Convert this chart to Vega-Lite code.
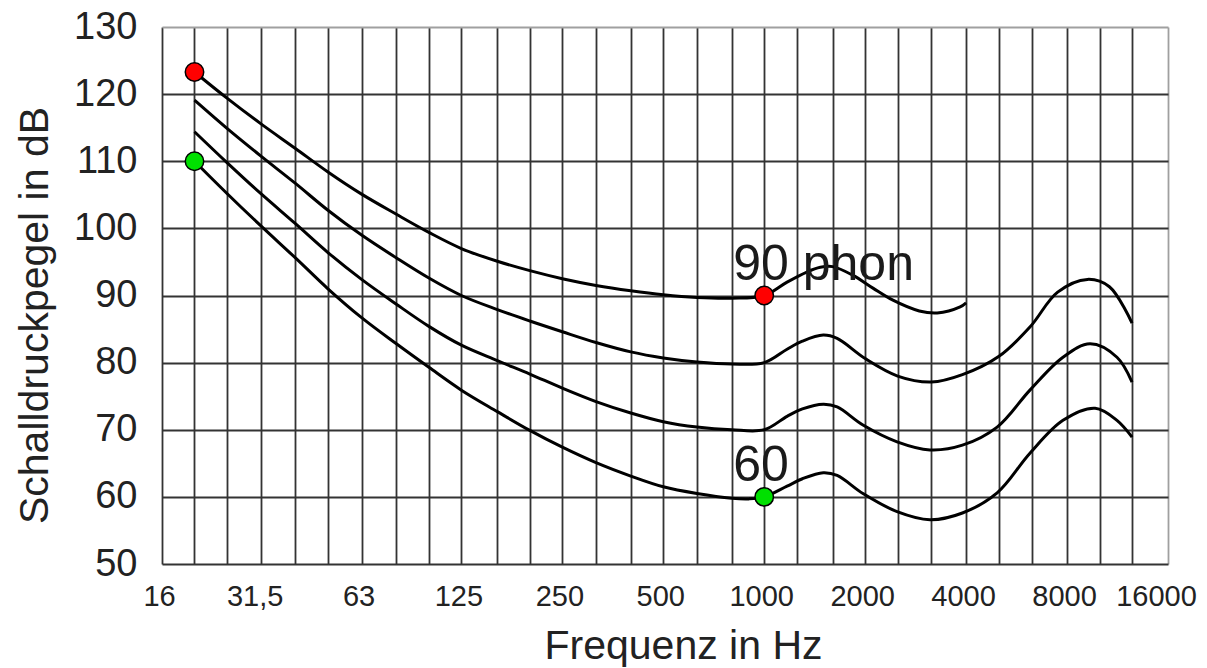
{
  "$schema": "https://vega.github.io/schema/vega-lite/v6.json",
  "width": 1006,
  "height": 537,
  "autosize": {"type": "none"},
  "padding": {"left": 162, "top": 27, "right": 39, "bottom": 104},
  "background": "white",
  "config": {"view": {"stroke": null}, "font": "Liberation Sans"},
  "datasets": {
    "kurven": [
      {"phon": 90, "f": 20, "db": 123.3}, {"phon": 90, "f": 25, "db": 119.4}, {"phon": 90, "f": 31.5, "db": 115.6},
      {"phon": 90, "f": 40, "db": 111.9}, {"phon": 90, "f": 50, "db": 108.4}, {"phon": 90, "f": 63, "db": 105.1},
      {"phon": 90, "f": 80, "db": 102.1}, {"phon": 90, "f": 100, "db": 99.4}, {"phon": 90, "f": 125, "db": 97.0},
      {"phon": 90, "f": 160, "db": 95.1}, {"phon": 90, "f": 200, "db": 93.7}, {"phon": 90, "f": 250, "db": 92.5},
      {"phon": 90, "f": 315, "db": 91.5}, {"phon": 90, "f": 400, "db": 90.7}, {"phon": 90, "f": 500, "db": 90.1},
      {"phon": 90, "f": 630, "db": 89.7}, {"phon": 90, "f": 800, "db": 89.6}, {"phon": 90, "f": 1000, "db": 90.0},
      {"phon": 90, "f": 1170, "db": 92.0}, {"phon": 90, "f": 1340, "db": 93.5}, {"phon": 90, "f": 1470, "db": 94.2},
      {"phon": 90, "f": 1600, "db": 94.3}, {"phon": 90, "f": 1840, "db": 93.0}, {"phon": 90, "f": 2110, "db": 91.1},
      {"phon": 90, "f": 2420, "db": 89.3}, {"phon": 90, "f": 2900, "db": 87.7}, {"phon": 90, "f": 3280, "db": 87.4},
      {"phon": 90, "f": 3840, "db": 88.3}, {"phon": 90, "f": 4000, "db": 88.9},

      {"phon": 80, "f": 20, "db": 119.1}, {"phon": 80, "f": 25, "db": 114.9}, {"phon": 80, "f": 31.5, "db": 110.8},
      {"phon": 80, "f": 40, "db": 106.7}, {"phon": 80, "f": 50, "db": 102.7}, {"phon": 80, "f": 63, "db": 99.0},
      {"phon": 80, "f": 80, "db": 95.6}, {"phon": 80, "f": 100, "db": 92.6}, {"phon": 80, "f": 125, "db": 90.0},
      {"phon": 80, "f": 160, "db": 87.9}, {"phon": 80, "f": 200, "db": 86.2}, {"phon": 80, "f": 250, "db": 84.6},
      {"phon": 80, "f": 315, "db": 83.0}, {"phon": 80, "f": 400, "db": 81.6}, {"phon": 80, "f": 500, "db": 80.7},
      {"phon": 80, "f": 630, "db": 80.1}, {"phon": 80, "f": 800, "db": 79.8}, {"phon": 80, "f": 1000, "db": 80.0},
      {"phon": 80, "f": 1170, "db": 82.0}, {"phon": 80, "f": 1300, "db": 83.2}, {"phon": 80, "f": 1500, "db": 84.1},
      {"phon": 80, "f": 1650, "db": 83.6}, {"phon": 80, "f": 2000, "db": 80.6}, {"phon": 80, "f": 2500, "db": 78.0},
      {"phon": 80, "f": 3150, "db": 77.1}, {"phon": 80, "f": 3900, "db": 78.2}, {"phon": 80, "f": 5000, "db": 80.9},
      {"phon": 80, "f": 6200, "db": 85.3}, {"phon": 80, "f": 7500, "db": 90.5}, {"phon": 80, "f": 9200, "db": 92.4},
      {"phon": 80, "f": 10700, "db": 91.3}, {"phon": 80, "f": 12500, "db": 85.9},

      {"phon": 70, "f": 20, "db": 114.4}, {"phon": 70, "f": 25, "db": 109.8}, {"phon": 70, "f": 31.5, "db": 105.2},
      {"phon": 70, "f": 40, "db": 100.7}, {"phon": 70, "f": 50, "db": 96.4}, {"phon": 70, "f": 63, "db": 92.4},
      {"phon": 70, "f": 80, "db": 88.7}, {"phon": 70, "f": 100, "db": 85.4}, {"phon": 70, "f": 125, "db": 82.6},
      {"phon": 70, "f": 160, "db": 80.3}, {"phon": 70, "f": 200, "db": 78.3}, {"phon": 70, "f": 250, "db": 76.2},
      {"phon": 70, "f": 315, "db": 74.2}, {"phon": 70, "f": 400, "db": 72.5}, {"phon": 70, "f": 500, "db": 71.2},
      {"phon": 70, "f": 630, "db": 70.4}, {"phon": 70, "f": 800, "db": 70.0}, {"phon": 70, "f": 1000, "db": 70.0},
      {"phon": 70, "f": 1170, "db": 72.0}, {"phon": 70, "f": 1300, "db": 73.1}, {"phon": 70, "f": 1500, "db": 73.8},
      {"phon": 70, "f": 1650, "db": 73.4}, {"phon": 70, "f": 1970, "db": 70.7}, {"phon": 70, "f": 2490, "db": 68.2},
      {"phon": 70, "f": 3120, "db": 67.0}, {"phon": 70, "f": 3900, "db": 67.7}, {"phon": 70, "f": 4950, "db": 70.4},
      {"phon": 70, "f": 6200, "db": 75.9}, {"phon": 70, "f": 7780, "db": 80.8}, {"phon": 70, "f": 9370, "db": 82.8},
      {"phon": 70, "f": 11270, "db": 80.8}, {"phon": 70, "f": 12500, "db": 77.1},

      {"phon": 60, "f": 20, "db": 110.0}, {"phon": 60, "f": 25, "db": 105.2}, {"phon": 60, "f": 31.5, "db": 100.4},
      {"phon": 60, "f": 40, "db": 95.6}, {"phon": 60, "f": 50, "db": 91.0}, {"phon": 60, "f": 63, "db": 86.7},
      {"phon": 60, "f": 80, "db": 82.8}, {"phon": 60, "f": 100, "db": 79.3}, {"phon": 60, "f": 125, "db": 75.9},
      {"phon": 60, "f": 160, "db": 72.7}, {"phon": 60, "f": 200, "db": 69.9}, {"phon": 60, "f": 250, "db": 67.4},
      {"phon": 60, "f": 315, "db": 65.1}, {"phon": 60, "f": 400, "db": 63.1}, {"phon": 60, "f": 500, "db": 61.5},
      {"phon": 60, "f": 630, "db": 60.5}, {"phon": 60, "f": 800, "db": 59.8}, {"phon": 60, "f": 900, "db": 59.7},
      {"phon": 60, "f": 1000, "db": 60.0}, {"phon": 60, "f": 1170, "db": 61.6}, {"phon": 60, "f": 1300, "db": 62.7},
      {"phon": 60, "f": 1500, "db": 63.6}, {"phon": 60, "f": 1650, "db": 63.2}, {"phon": 60, "f": 1970, "db": 60.5},
      {"phon": 60, "f": 2490, "db": 57.8}, {"phon": 60, "f": 3120, "db": 56.6}, {"phon": 60, "f": 3900, "db": 57.6},
      {"phon": 60, "f": 4950, "db": 60.6}, {"phon": 60, "f": 6200, "db": 66.5}, {"phon": 60, "f": 7780, "db": 71.4},
      {"phon": 60, "f": 9700, "db": 73.2}, {"phon": 60, "f": 11270, "db": 71.4}, {"phon": 60, "f": 12500, "db": 68.9}
    ],
    "punkte": [
      {"f": 20, "db": 123.3, "farbe": "rot"},
      {"f": 1000, "db": 90, "farbe": "rot"},
      {"f": 20, "db": 110, "farbe": "grün"},
      {"f": 1000, "db": 60, "farbe": "grün"}
    ],
    "beschriftung": [
      {"f": 1000, "db": 90, "text": "90 phon"},
      {"f": 1000, "db": 60, "text": "60"}
    ]
  },
  "layer": [
    {
      "data": {"name": "kurven"},
      "mark": {"type": "line", "color": "black", "strokeWidth": 3, "interpolate": "catmull-rom"},
      "encoding": {
        "x": {
          "field": "f",
          "type": "quantitative",
          "scale": {"type": "log", "domain": [16, 16000], "nice": false},
          "axis": {
            "title": "Frequenz in Hz",
            "values": [16, 20, 25, 31.5, 40, 50, 63, 80, 100, 125, 160, 200, 250, 315, 400, 500, 630, 800, 1000, 1250, 1600, 2000, 2500, 3150, 4000, 5000, 6300, 8000, 10000, 12500, 16000],
            "labelExpr": "datum.value == 31.5 ? '31,5' : (indexof([16, 63, 125, 250, 500, 1000, 2000, 4000, 8000, 16000], datum.value) >= 0 ? toString(datum.value) : '')",
            "grid": true,
            "gridColor": {"condition": {"test": "datum.value == 16000", "value": "#a0a0a0"}, "value": "#333333"},
            "gridWidth": 1.8,
            "ticks": false,
            "tickSize": 0,
            "domain": false,
            "labelFont": "Liberation Sans",
            "labelFontSize": 29,
            "labelColor": "#222222",
            "labelBaseline": "alphabetic",
            "labelPadding": 41,
            "labelOffset": {"condition": [
              {"test": "datum.value == 16000", "value": -12},
              {"test": "datum.value == 31.5", "value": -6}
            ], "value": -3},
            "labelOverlap": false,
            "labelFlush": false,
            "labelBound": false,
            "titleFont": "Liberation Sans",
            "titleFontSize": 41,
            "titleFontWeight": "normal",
            "titleColor": "#222222",
            "titleX": 521,
            "titleY": 94,
            "titleAlign": "center",
            "titleBaseline": "alphabetic"
          }
        },
        "y": {
          "field": "db",
          "type": "quantitative",
          "scale": {"domain": [50, 130], "nice": false, "zero": false},
          "axis": {
            "title": "Schalldruckpegel in dB",
            "values": [50, 60, 70, 80, 90, 100, 110, 120, 130],
            "grid": true,
            "gridColor": {"condition": {"test": "datum.value == 130", "value": "#a0a0a0"}, "value": "#333333"},
            "gridWidth": 1.8,
            "ticks": false,
            "tickSize": 0,
            "domain": false,
            "labelFont": "Liberation Sans",
            "labelFontSize": 38,
            "labelColor": "#222222",
            "labelPadding": 25,
            "labelOverlap": false,
            "labelFlush": false,
            "labelBound": false,
            "titleFont": "Liberation Sans",
            "titleFontSize": 41,
            "titleFontWeight": "normal",
            "titleColor": "#222222",
            "titleAngle": 270,
            "titleX": -115,
            "titleY": 288,
            "titleAlign": "center",
            "titleBaseline": "alphabetic"
          }
        },
        "detail": {"field": "phon"}
      }
    },
    {
      "data": {"name": "beschriftung"},
      "mark": {"type": "text", "align": "left", "baseline": "alphabetic", "dx": -31, "dy": -16, "fontSize": 50, "font": "Liberation Sans", "color": "#1a1a1a"},
      "encoding": {
        "x": {"field": "f", "type": "quantitative"},
        "y": {"field": "db", "type": "quantitative"},
        "text": {"field": "text"}
      }
    },
    {
      "data": {"name": "punkte"},
      "mark": {"type": "circle", "size": 340, "opacity": 1, "stroke": "black", "strokeWidth": 1.5},
      "encoding": {
        "x": {"field": "f", "type": "quantitative"},
        "y": {"field": "db", "type": "quantitative"},
        "fill": {"field": "farbe", "type": "nominal", "scale": {"domain": ["rot", "grün"], "range": ["#ff0000", "#00e000"]}, "legend": null}
      }
    }
  ]
}
